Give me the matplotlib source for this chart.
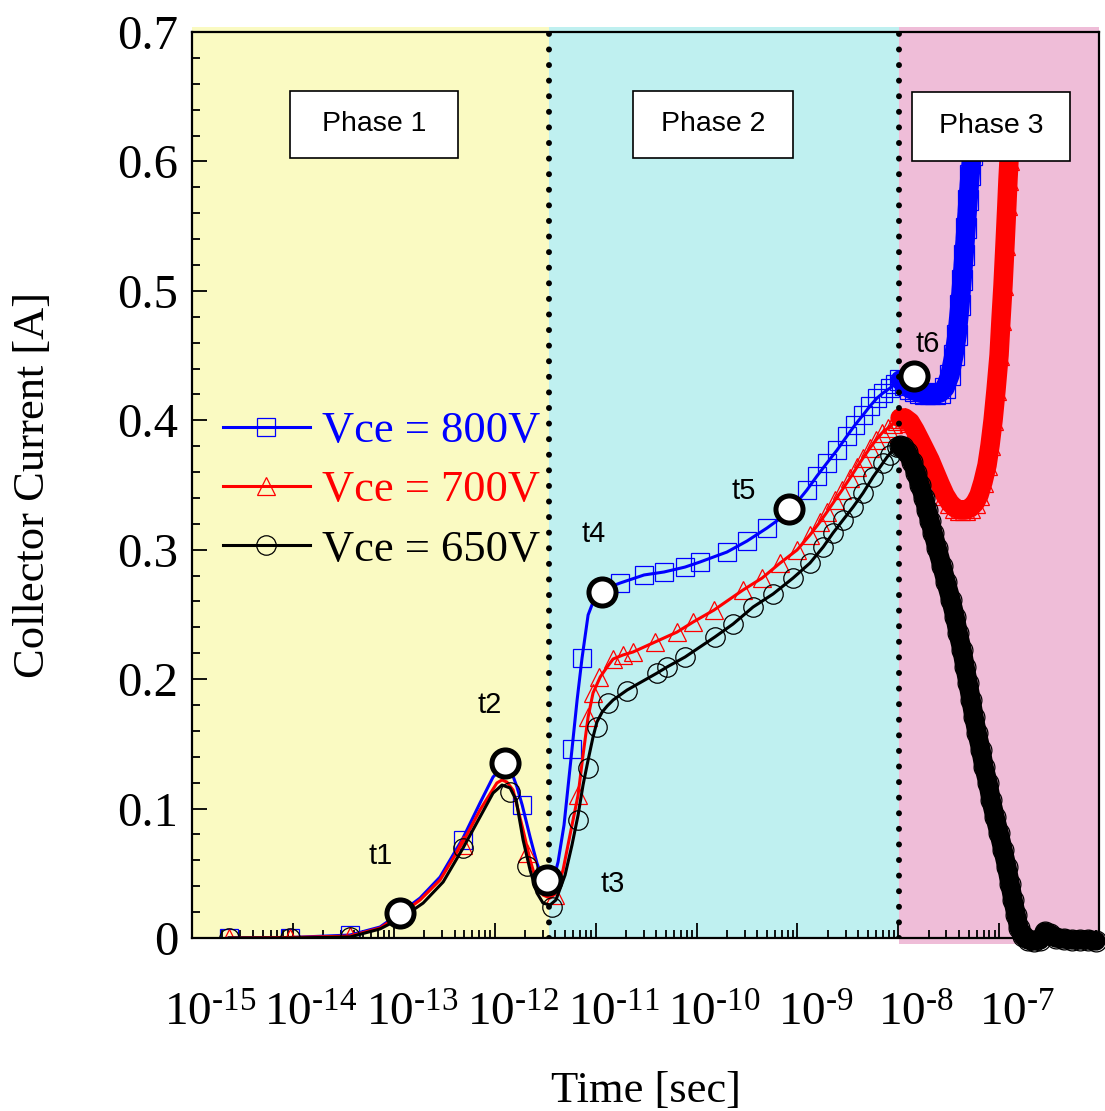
import matplotlib.pyplot as plt
import matplotlib.transforms as mtransforms
import numpy as np
from matplotlib.lines import Line2D
from matplotlib.patches import Rectangle
from matplotlib.ticker import FixedLocator, LogLocator, MultipleLocator, NullFormatter

plt.rcParams['font.family'] = 'Liberation Serif'
plt.rcParams['mathtext.fontset'] = 'custom'
plt.rcParams['mathtext.rm'] = 'Liberation Serif'

# ---- collector current [A] versus time [s] ----
# Vce = 800 V (curve, phase 1-3)
t_800 = [2.33e-15, 9.35e-15, 3.68e-14, 7.29e-14, 1.15e-13, 1.82e-13, 2.87e-13, 4.85e-13,
         7.14e-13, 9.62e-13, 1.26e-12, 1.42e-12, 1.66e-12, 1.87e-12, 2.24e-12, 2.62e-12,
         3.01e-12, 3.37e-12, 3.70e-12, 4.24e-12, 4.86e-12, 5.83e-12, 6.55e-12, 7.33e-12,
         8.42e-12, 9.86e-12, 1.16e-11, 1.75e-11, 3.02e-11, 4.76e-11, 7.69e-11, 1.08e-10,
         2.00e-10, 3.16e-10, 5.00e-10, 8.26e-10, 1.24e-9, 1.56e-9, 1.96e-9, 2.47e-9,
         3.10e-9, 3.72e-9, 4.47e-9, 5.24e-9, 6.15e-9, 7.05e-9, 8.28e-9, 9.27e-9,
         1.04e-8, 1.16e-8, 1.31e-8, 1.46e-8, 1.64e-8, 1.84e-8, 2.06e-8, 2.31e-8,
         2.59e-8, 2.90e-8, 3.25e-8, 3.56e-8, 3.82e-8, 4.08e-8, 4.28e-8, 4.48e-8,
         4.69e-8, 4.91e-8, 5.14e-8, 5.37e-8]
i_800 = [0.0, 0.0004, 0.0023, 0.0085, 0.0193, 0.0309, 0.0471, 0.0773,
         0.1043, 0.1244, 0.1337, 0.1313, 0.1167, 0.1028, 0.0780, 0.0579,
         0.0448, 0.0386, 0.0409, 0.0587, 0.0873, 0.1460, 0.1839, 0.2163,
         0.2496, 0.2635, 0.2689, 0.2743, 0.2805, 0.2828, 0.2866, 0.2905,
         0.2982, 0.3067, 0.3168, 0.3291, 0.3461, 0.3569, 0.3670, 0.3770,
         0.3879, 0.3964, 0.4041, 0.4110, 0.4172, 0.4211, 0.4249, 0.4280,
         0.4311, 0.4273, 0.4242, 0.4226, 0.4211, 0.4203, 0.4203, 0.4203,
         0.4211, 0.4249, 0.4350, 0.4504, 0.4659, 0.4891, 0.5084, 0.5277,
         0.5486, 0.5702, 0.5895, 0.6050]
# Vce = 800 V, simulation points shown as symbols (phase 1-2)
tm_800 = [2.33e-15, 9.35e-15, 3.68e-14, 4.85e-13, 1.87e-12, 5.83e-12, 7.33e-12, 1.75e-11,
          3.02e-11, 4.76e-11, 7.69e-11, 1.08e-10, 2.00e-10, 3.16e-10, 5.00e-10, 1.24e-9,
          1.56e-9, 1.96e-9, 2.47e-9, 3.10e-9, 3.72e-9, 4.47e-9, 5.24e-9, 6.15e-9,
          7.05e-9, 8.28e-9, 9.27e-9]
im_800 = [0.0, 0.0, 0.0023, 0.0757, 0.1028, 0.1460, 0.2163, 0.2743,
          0.2805, 0.2828, 0.2866, 0.2905, 0.2982, 0.3067, 0.3168, 0.3461,
          0.3569, 0.3670, 0.3770, 0.3879, 0.3964, 0.4041, 0.4110, 0.4172,
          0.4211, 0.4249, 0.4280]

# Vce = 700 V
t_700 = [2.33e-15, 9.35e-15, 3.68e-14, 7.29e-14, 1.15e-13, 1.82e-13, 2.87e-13, 4.85e-13,
         7.14e-13, 1.05e-12, 1.18e-12, 1.32e-12, 1.52e-12, 1.91e-12, 2.24e-12, 2.62e-12,
         3.01e-12, 3.53e-12, 3.96e-12, 4.75e-12, 5.57e-12, 6.70e-12, 7.50e-12, 8.42e-12,
         9.42e-12, 1.11e-11, 1.30e-11, 1.49e-11, 1.87e-11, 2.35e-11, 3.88e-11, 6.41e-11,
         9.23e-11, 1.49e-10, 2.89e-10, 4.46e-10, 6.73e-10, 9.91e-10, 1.33e-9, 1.67e-9,
         1.96e-9, 2.36e-9, 2.77e-9, 3.32e-9, 3.90e-9, 4.47e-9, 5.24e-9, 6.01e-9,
         6.89e-9, 7.91e-9, 8.85e-9, 9.70e-9,
         1.04e-8, 1.16e-8, 1.31e-8, 1.46e-8, 1.64e-8, 1.84e-8, 2.06e-8, 2.31e-8,
         2.59e-8, 2.90e-8, 3.25e-8, 3.65e-8, 4.08e-8, 4.58e-8, 5.14e-8, 5.75e-8,
         6.31e-8, 6.90e-8, 7.57e-8, 8.11e-8, 8.69e-8, 9.29e-8, 9.96e-8, 1.04e-7,
         1.09e-7, 1.14e-7, 1.19e-7, 1.22e-7, 1.25e-7]
i_700 = [0.0, 0.0004, 0.0015, 0.0077, 0.0178, 0.0294, 0.0448, 0.0742,
         0.0989, 0.1198, 0.1221, 0.1205, 0.1143, 0.0834, 0.0603, 0.0425,
         0.0332, 0.0309, 0.0340, 0.0525, 0.0796, 0.1105, 0.1414, 0.1708,
         0.1893, 0.2017, 0.2094, 0.2156, 0.2187, 0.2210, 0.2287, 0.2364,
         0.2441, 0.2534, 0.2689, 0.2781, 0.2897, 0.2998, 0.3114, 0.3214,
         0.3291, 0.3384, 0.3461, 0.3554, 0.3639, 0.3709, 0.3786, 0.3848,
         0.3902, 0.3940, 0.3971, 0.3994,
         0.4018, 0.4018, 0.3987, 0.3925, 0.3848, 0.3770, 0.3693, 0.3600,
         0.3508, 0.3423, 0.3361, 0.3322, 0.3307, 0.3307, 0.3322, 0.3361,
         0.3423, 0.3523, 0.3654, 0.3809, 0.4002, 0.4234, 0.4504, 0.4775,
         0.5045, 0.5354, 0.5663, 0.5856, 0.6011]
tm_700 = [2.33e-15, 9.35e-15, 3.68e-14, 4.85e-13, 2.09e-12, 3.96e-12, 6.70e-12, 8.42e-12,
          9.42e-12, 1.08e-11, 1.49e-11, 1.87e-11, 2.35e-11, 3.88e-11, 6.41e-11, 9.23e-11,
          1.49e-10, 2.89e-10, 4.46e-10, 6.73e-10, 9.91e-10, 1.33e-9, 1.67e-9, 1.96e-9,
          2.36e-9, 2.77e-9, 3.32e-9, 3.90e-9, 4.47e-9, 5.24e-9, 6.01e-9, 6.89e-9,
          7.91e-9, 8.85e-9, 9.70e-9]
im_700 = [0.0, 0.0, 0.0015, 0.0719, 0.0657, 0.0332, 0.1105, 0.1708,
          0.1893, 0.2017, 0.2156, 0.2187, 0.2210, 0.2287, 0.2364, 0.2441,
          0.2534, 0.2689, 0.2781, 0.2897, 0.2998, 0.3114, 0.3214, 0.3291,
          0.3384, 0.3461, 0.3554, 0.3639, 0.3709, 0.3786, 0.3848, 0.3902,
          0.3940, 0.3971, 0.3994]

# Vce = 650 V
t_650 = [2.33e-15, 9.35e-15, 3.68e-14, 7.29e-14, 1.23e-13, 1.95e-13, 3.08e-13, 4.85e-13,
         7.14e-13, 9.62e-13, 1.18e-12, 1.42e-12, 1.63e-12, 1.91e-12, 2.24e-12, 2.62e-12,
         3.01e-12, 3.53e-12, 4.04e-12, 4.98e-12, 5.83e-12, 6.70e-12, 7.50e-12, 8.42e-12,
         9.42e-12, 1.03e-11, 1.16e-11, 1.30e-11, 1.49e-11, 2.05e-11, 4.06e-11, 5.10e-11,
         7.69e-11, 1.52e-10, 2.30e-10, 3.63e-10, 5.73e-10, 9.04e-10, 1.33e-9, 1.80e-9,
         2.25e-9, 2.83e-9, 3.56e-9, 4.47e-9, 5.61e-9, 6.59e-9, 7.73e-9, 8.85e-9,
         9.70e-9,
         1.04e-8, 1.11e-8, 1.22e-8, 1.37e-8, 1.50e-8, 1.64e-8, 1.80e-8, 1.92e-8,
         2.06e-8, 2.21e-8, 2.42e-8, 2.71e-8, 2.97e-8, 3.33e-8, 3.65e-8, 3.91e-8,
         4.28e-8, 4.58e-8, 4.91e-8, 5.26e-8, 5.62e-8, 6.03e-8, 6.59e-8, 7.06e-8,
         7.74e-8, 8.30e-8, 9.08e-8, 9.96e-8, 1.09e-7, 1.19e-7, 1.28e-7, 1.37e-7,
         1.47e-7, 1.57e-7, 1.72e-7, 1.93e-7, 2.21e-7, 2.54e-7, 2.84e-7, 3.19e-7,
         3.66e-7, 4.39e-7, 5.26e-7, 6.32e-7, 7.59e-7, 9.10e-7]
i_650 = [0.0, 0.0, 0.0008, 0.0070, 0.0162, 0.0270, 0.0433, 0.0695,
         0.0935, 0.1120, 0.1182, 0.1159, 0.1066, 0.0757, 0.0525, 0.0348,
         0.0270, 0.0255, 0.0294, 0.0487, 0.0719, 0.0950, 0.1182, 0.1375,
         0.1553, 0.1669, 0.1746, 0.1792, 0.1839, 0.1916, 0.2047, 0.2094,
         0.2171, 0.2326, 0.2426, 0.2557, 0.2658, 0.2781, 0.2897, 0.3021,
         0.3129, 0.3230, 0.3330, 0.3438, 0.3562, 0.3639, 0.3716, 0.3770,
         0.3794,
         0.3801, 0.3794, 0.3755, 0.3677, 0.3593, 0.3500, 0.3400, 0.3307,
         0.3222, 0.3129, 0.3013, 0.2874, 0.2751, 0.2611, 0.2480, 0.2357,
         0.2225, 0.2094, 0.1970, 0.1839, 0.1708, 0.1584, 0.1453, 0.1321,
         0.1198, 0.1066, 0.0935, 0.0811, 0.0680, 0.0549, 0.0417, 0.0294,
         0.0178, 0.0077, 0.0015, -0.0015, -0.0023, -0.0015, 0.0046, 0.0031,
         0.0, -0.0008, -0.0015, -0.0015, -0.0015, -0.0023]
tm_650 = [2.33e-15, 9.35e-15, 3.68e-14, 4.85e-13, 1.42e-12, 2.09e-12, 3.70e-12, 6.70e-12,
          8.42e-12, 1.03e-11, 1.33e-11, 2.05e-11, 4.06e-11, 5.10e-11, 7.69e-11, 1.52e-10,
          2.30e-10, 3.63e-10, 5.73e-10, 9.04e-10, 1.33e-9, 1.80e-9, 2.25e-9, 2.83e-9,
          3.56e-9, 4.47e-9, 5.61e-9, 7.05e-9, 8.28e-9, 9.70e-9]
im_650 = [0.0, 0.0, 0.0008, 0.0695, 0.1128, 0.0556, 0.0240, 0.0912,
          0.1313, 0.1630, 0.1816, 0.1908, 0.2047, 0.2094, 0.2171, 0.2326,
          0.2426, 0.2557, 0.2658, 0.2781, 0.2897, 0.3021, 0.3129, 0.3230,
          0.3330, 0.3438, 0.3562, 0.3670, 0.3732, 0.3794]

# switching instants t1..t6
event_names = ['t1', 't2', 't3', 't4', 't5', 't6']
event_t = [1.15e-13, 1.26e-12, 3.3e-12, 1.16e-11, 8.26e-10, 1.43e-8]
event_i = [0.0193, 0.135, 0.045, 0.267, 0.3315, 0.434]
event_offsets = [(-14, 41), (-11, 42), (47, -3), (-6, 42), (-33, 13), (10, 23)]

phase_names = ['Phase 1', 'Phase 2', 'Phase 3']
phase_edges = [3.45e-12, 1.02e-8]
phase_colors = ['#FAFAC2', '#BFF0F0', '#EFBDD8']
phase_boxes = [(0.108, 0.861, 0.185, 0.074), (0.486, 0.861, 0.177, 0.074),
               (0.794, 0.858, 0.174, 0.076)]

exponents = list(range(-15, -6))
x_min, x_max = 1e-15, 9.75e-7

fig = plt.figure(figsize=(11.05, 11.11), dpi=100)
ax = fig.add_axes([0.1738, 0.1557, 0.8208, 0.8155])

# shaded phases
spans = [x_min] + phase_edges + [x_max]
for k, c in enumerate(phase_colors):
    ax.axvspan(spans[k], spans[k + 1], ymin=-0.007 if k == 2 else 0, ymax=1.006,
               color=c, lw=0, zorder=0, clip_on=False)

series = [
    (t_800, i_800, tm_800, im_800, 'blue', 's', 13, 'Vce = 800V'),
    (t_700, i_700, tm_700, im_700, 'red', '^', 13, 'Vce = 700V'),
    (t_650, i_650, tm_650, im_650, 'black', 'o', 14, 'Vce = 650V'),
]
for t, cur, tm, im, c, m, ms, lab in series:
    t = np.asarray(t)
    cur = np.asarray(cur)
    ax.plot(t, cur, color=c, lw=2.2, zorder=3)
    ax.plot(tm, im, ls='none', marker=m, ms=ms, mfc='none', mec=c, mew=0.9, zorder=3)
    # phase 3 is densely sampled: the symbols merge into a band
    p3 = t >= phase_edges[1]
    ax.plot(t[p3], cur[p3], color=c, lw=14, solid_capstyle='round',
            solid_joinstyle='round', zorder=3, clip_on=False)
    ax.plot(t[p3], cur[p3], ls='none', marker=m, ms=ms + 1, mfc='none', mec=c, mew=0.9,
            zorder=3, clip_on=False)

# phase boundaries
for x in phase_edges:
    ax.axvline(x, color='black', lw=4.3, ls=(0, (0.01, 2.6)), dash_capstyle='round',
               zorder=4)

for name, (x0, y0, w, h) in zip(phase_names, phase_boxes):
    ax.add_patch(Rectangle((x0, y0), w, h, transform=ax.transAxes, fc='white',
                           ec='black', lw=1.2, zorder=5))
    ax.text(x0 + w / 2, y0 + h / 2, name, transform=ax.transAxes, ha='center',
            va='center', fontsize=20.5, family='Liberation Sans', zorder=6)

ax.plot(event_t, event_i, ls='none', marker='o', ms=19.5, mfc='white', mec='black',
        mew=3.6, zorder=6, clip_on=False)
for name, t, cur, off in zip(event_names, event_t, event_i, event_offsets):
    ax.annotate(name, (t, cur), xytext=off, textcoords='offset points', ha='center',
                va='center', fontsize=21, family='Liberation Sans', zorder=7)

handles = [Line2D([], [], color=c, lw=2.2, marker=m, ms=ms, mfc='none', mec=c, mew=0.9)
           for _, _, _, _, c, m, ms, _ in series]
labels = [s[7] for s in series]
leg = ax.legend(handles, labels, loc='center left', bbox_to_anchor=(0.034, 0.494),
                frameon=False, fontsize=32, handlelength=1.96, handletextpad=0.27,
                labelspacing=0.43, borderpad=0, borderaxespad=0)
leg.set_zorder(5)
for txt, s in zip(leg.get_texts(), series):
    txt.set_color(s[4])

ax.set_xscale('log')
ax.set_xlim(x_min, x_max)
ax.set_ylim(0, 0.7)

ax.xaxis.set_major_locator(FixedLocator([10.0 ** k for k in exponents]))
ax.set_xticklabels([r'$\mathregular{10^{‐%d}}$' % -k for k in exponents])
ax.xaxis.set_minor_locator(LogLocator(base=10, subs=np.arange(2, 10), numticks=40))
ax.xaxis.set_minor_formatter(NullFormatter())

yticks = np.arange(0, 0.71, 0.1)
ax.set_yticks(yticks)
ax.set_yticklabels(['0' if v == 0 else f'{v:.1f}' for v in yticks])
ax.yaxis.set_minor_locator(MultipleLocator(0.02))

ax.tick_params(which='both', direction='in', width=1.3, top=False, right=False)
ax.tick_params(which='major', length=11)
ax.tick_params(which='minor', length=6)
ax.tick_params(axis='x', which='major', pad=40, labelsize=34)
ax.tick_params(axis='y', which='major', pad=10, labelsize=35)
for sp in ax.spines.values():
    sp.set_linewidth(1.6)
    sp.set_zorder(8)

# the base "10" sits on the tick, the exponent hangs to the right
shift = mtransforms.ScaledTranslation(13 / 72, 0, fig.dpi_scale_trans)
for lbl in ax.get_xticklabels():
    lbl.set_transform(lbl.get_transform() + shift)

ax.set_xlabel('Time [sec]', fontsize=32)
ax.set_ylabel('Collector Current [A]', fontsize=32)
ax.xaxis.set_label_coords(0.5, -0.147)
ax.yaxis.set_label_coords(-0.153, 0.5)

fig.savefig('out.png', dpi=100)
